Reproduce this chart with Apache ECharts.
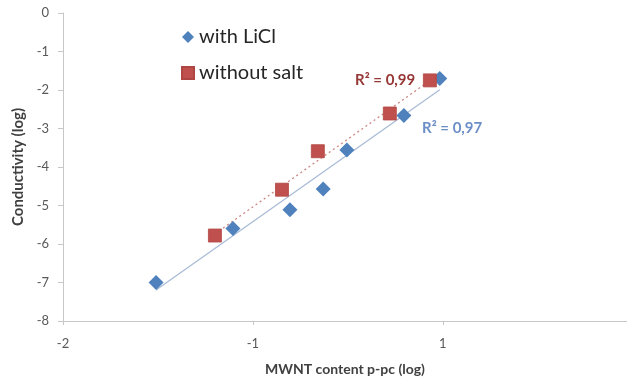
<!DOCTYPE html>
<html>
<head>
<meta charset="utf-8">
<script src="https://cdn.jsdelivr.net/npm/echarts@6/dist/echarts.min.js"></script>
<style>html,body{margin:0;padding:0;background:#fff;}#c{width:627px;height:381px;}</style>
</head>
<body>
<div id="c"></div>
<script>
// log10 values
const licX = [-1.51, -1.105, -0.805, -0.63, -0.505, -0.205, -0.016];
const licY = [-7.0, -5.6, -5.11, -4.57, -3.56, -2.66, -1.70];
const saltX = [-1.2, -0.847, -0.658, -0.279, -0.068];
const saltY = [-5.78, -4.59, -3.59, -2.61, -1.75];
const xTickLabels = {'-2': '-2', '-1': '-1', '0': '1'};
const seriesNames = ['with LiCl', 'without salt'];
const r2Labels = ['R² = 0,97', 'R² = 0,99'];

function fit(xs, ys) {
  const n = xs.length;
  const mx = xs.reduce((a, b) => a + b, 0) / n;
  const my = ys.reduce((a, b) => a + b, 0) / n;
  let sxy = 0, sxx = 0;
  for (let i = 0; i < n; i++) { sxy += (xs[i] - mx) * (ys[i] - my); sxx += (xs[i] - mx) ** 2; }
  const b = sxy / sxx, a = my - b * mx;
  const x0 = Math.min(...xs), x1 = Math.max(...xs);
  return [[x0, a + b * x0], [x1, a + b * x1]];
}
const pairs = (xs, ys) => xs.map((x, i) => [x, ys[i]]);

const font = 'Lato, "Open Sans", "Liberation Sans", sans-serif';
const chart = echarts.init(document.getElementById('c'));
chart.setOption({
  animation: false,
  textStyle: { fontFamily: font },
  grid: { left: 63, right: 0, top: 13, bottom: 58 },
  xAxis: {
    type: 'value', min: -2, max: 0.97, interval: 1,
    name: 'MWNT content p-pc (log)', nameLocation: 'middle', nameGap: 41,
    nameTextStyle: { fontSize: 14, fontWeight: 'bold', color: '#404040', fontFamily: font },
    axisLine: { onZero: false, lineStyle: { color: '#C8C8C8', width: 1 } },
    axisTick: { show: true, length: 4, lineStyle: { color: '#C8C8C8' } },
    splitLine: { show: false },
    axisLabel: { margin: 16, fontSize: 13, color: '#595959', fontFamily: font, showMaxLabel: false,
      formatter: v => xTickLabels[String(v)] || '' }
  },
  yAxis: {
    type: 'value', min: -8, max: 0, interval: 1,
    name: 'Conductivity (log)', nameLocation: 'middle', nameGap: 31, nameRotate: 90,
    nameTextStyle: { fontSize: 15, fontWeight: 'bold', color: '#404040', fontFamily: font },
    axisLine: { show: true, onZero: false, lineStyle: { color: '#C8C8C8', width: 1 } },
    axisTick: { show: true, length: 5, lineStyle: { color: '#C8C8C8' } },
    splitLine: { show: false },
    axisLabel: { margin: 14, fontSize: 13, color: '#595959', fontFamily: font }
  },
  legend: {
    data: seriesNames, orient: 'vertical', left: 176, top: 22, itemGap: 16,
    itemWidth: 12, itemHeight: 12,
    textStyle: { fontSize: 20, lineHeight: 20, color: '#262626', fontFamily: font }
  },
  series: [
    { name: 'trend LiCl', type: 'line', data: fit(licX, licY), showSymbol: false, symbol: 'none',
      lineStyle: { color: '#A9BBD6', width: 1.3 }, z: 1, silent: true },
    { name: 'trend salt', type: 'line', data: fit(saltX, saltY), showSymbol: false, symbol: 'none',
      lineStyle: { color: '#CC8785', width: 1.3, type: [2, 3] }, z: 1, silent: true },
    { name: seriesNames[0], type: 'scatter', symbol: 'diamond', symbolSize: 15,
      data: pairs(licX, licY), itemStyle: { color: '#4F81BD', opacity: 1 }, z: 3 },
    { name: seriesNames[1], type: 'scatter', symbol: 'rect', symbolSize: 13,
      data: pairs(saltX, saltY), itemStyle: { color: '#C0504D', borderColor: '#B04643', borderWidth: 0.8, opacity: 1 }, z: 4 }
  ],
  graphic: [
    { type: 'text', left: 422, top: 121, style: { text: r2Labels[0], fill: '#6C8EC7', font: 'bold 15px ' + font } },
    { type: 'text', left: 355, top: 73, style: { text: r2Labels[1], fill: '#953735', font: 'bold 15px ' + font } }
  ]
});
</script>
</body>
</html>
